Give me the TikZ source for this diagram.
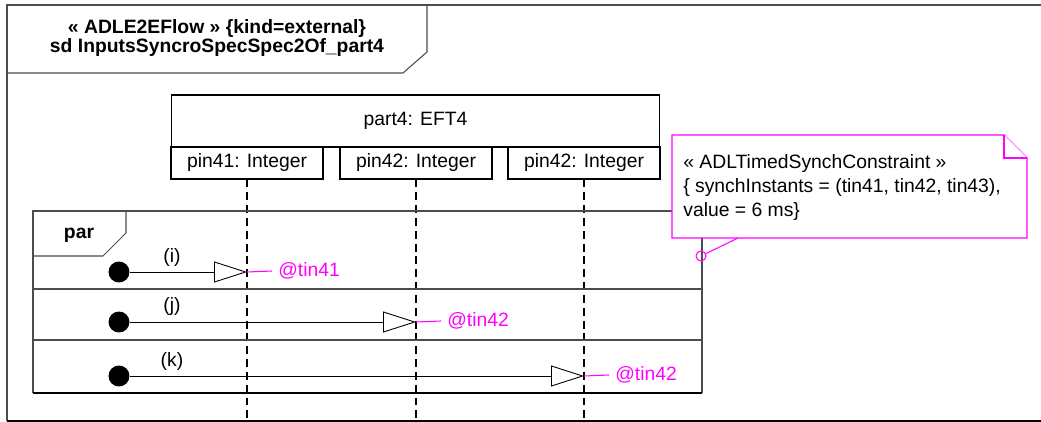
\documentclass[tikz,border=0pt]{standalone}
\usepackage{fontspec}
\setmainfont{Liberation Sans}
\usetikzlibrary{arrows.meta}
\definecolor{notepink}{RGB}{255,0,255}
\begin{document}
\begin{tikzpicture}[
  x=0.02cm, y=-0.02cm,
  every node/.style={font=\fontsize{11}{13.6}\selectfont, inner sep=0pt},
  heading/.style={font=\fontsize{11}{11}\selectfont\bfseries},
  frameline/.style={draw=black!70, line width=0.6pt},
  shadeline/.style={draw=black, line width=1.3pt},
  lifebox/.style={draw, line width=0.6pt, fill=white},
  lifeline/.style={line width=1.1pt, dash pattern=on 4.5pt off 2.8pt},
  msg/.style={line width=0.5pt, -{Triangle[open, length=0.66cm, width=0.42cm]}},
  startdot/.style={circle, fill=black, minimum size=0.42cm},
  stamp/.style={text=notepink, inner xsep=0.12cm},
  note/.style={draw=notepink, line width=0.6pt, fill=white}
]
\useasboundingbox (0,0) rectangle (1041,422);
% outer sd frame
\draw[frameline] (1041,5) -- (7,5) -- (7,421);
\draw[shadeline] (7,421) -- (1041,421);
\draw[frameline] (7,73) -- (403,73) -- (427,52) -- (427,5);
\node[heading, align=center] (title) at (217,38) {« ADLE2EFlow » \{kind=external\}\\sd InputsSyncroSpecSpec2Of\_part4};
% lifelines
\node[lifebox, minimum width=9.78cm, minimum height=1.04cm] (part) at (415.5,121) {part4: EFT4};
\foreach \n/\x/\lbl in {1/247/pin41,2/416/pin42,3/584/pin42}{
  \node[lifebox, minimum width=3.04cm, minimum height=0.64cm] (pin\n) at (\x,163) {\lbl: Integer};
  \draw[lifeline] (pin\n.south) -- ++(0,243);
}
% par fragment
\draw[frameline] (33,393) -- (33,211) -- (702,211) -- (702,393);
\draw[shadeline] (33,393) -- (702,393);
\draw[frameline] (126,211) -- (126,233) -- (103,256) -- (33,256);
\node[heading] (par) at (79,235) {par};
\foreach \y in {289,340}
  \draw[frameline] (33,\y) -- (702,\y);
\foreach \n/\x/\y/\lbl/\tm in {1/247/272/i/tin41,2/416/322/j/tin42,3/584/376/k/tin42}{
  \node[startdot] (src\n) at (119,\y) {};
  \coordinate (hit\n) at (\x,\y);
  \draw[msg] (src\n) -- (hit\n);
  \node (lbl\n) at (172,\y-15) {(\lbl)};
  \node[stamp, anchor=west] (time\n) at (\x+25,\y-1) {@\tm};
  \draw[notepink, line width=0.6pt] (hit\n) -- (time\n.west);
}
% constraint note
\draw[note] (672,135) -- (1004,135) -- (1027,158) -- (1027,238) -- (672,238) -- cycle;
\draw[note] (1004,135) -- (1004,158) -- (1027,158);
\node[anchor=north west, align=left] (constraint) at (683,154) {« ADLTimedSynchConstraint »\\\{ synchInstants = (tin41, tin42, tin43),\\value = 6 ms\}};
\coordinate (notefoot) at (738,238);
\node[circle, draw=notepink, line width=0.6pt, minimum size=0.2cm] (anchorpt) at (701,256) {};
\draw[notepink, line width=0.6pt] (notefoot) -- (anchorpt);
\end{tikzpicture}
\end{document}
